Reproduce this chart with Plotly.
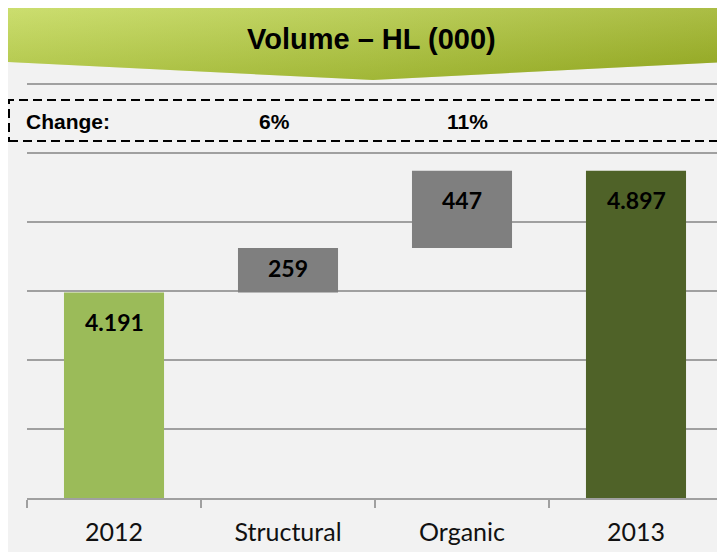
import plotly.graph_objects as go

# ---- data ----
categories = ["2012", "Structural", "Organic", "2013"]
start_value = 4191
changes = [259, 447]
end_value = 4897
change_labels = ["6%", "11%"]
title_text = "Volume – HL (000)"
y_min, y_max, y_step = 3000, 5400, 400

# page has an 8px body margin: figure is placed at (8, 8) in the window
OFF = 8
W, H = 725 - OFF, 552 - OFF

def px(x):
    return (x - OFF) / W

def py(y):
    return 1 - (y - OFF) / H

# bar geometry (bases + heights) from the data
bases = [0, start_value, start_value + changes[0], 0]
heights = [start_value, changes[0], changes[1], end_value]
tops = [b + h for b, h in zip(bases, heights)]
colors = ["#9BBB59", "#7F7F7F", "#7F7F7F", "#4F6228"]
labels = [f"{v:,}".replace(",", ".") for v in [start_value] + changes + [end_value]]

fig = go.Figure()

fig.add_trace(go.Bar(
    x=categories, y=heights, base=bases,
    xaxis="x", yaxis="y",
    marker=dict(color=colors, line=dict(width=0)),
    width=0.575, hoverinfo="skip", showlegend=False,
))

# banner (decoration) on a full-figure pixel axis pair (window pixel coords)
bx = [8, 726, 726, 373, 8, 8]
by = [4, 4, 62, 80, 62, 4]
fig.add_trace(go.Scatter(
    x=bx, y=by, xaxis="x2", yaxis="y2", mode="lines", fill="toself",
    line=dict(width=0, color="rgba(0,0,0,0)"),
    fillgradient=dict(type="horizontal",
                      colorscale=[[0, "#C3D85E"], [0.5, "#AFC546"], [1, "#97AC25"]]),
    hoverinfo="skip", showlegend=False,
))
fig.add_trace(go.Scatter(
    x=bx, y=by, xaxis="x2", yaxis="y2", mode="lines", fill="toself",
    line=dict(width=0, color="rgba(0,0,0,0)"),
    fillgradient=dict(type="vertical",
                      colorscale=[[0, "rgba(120,140,10,0.25)"], [1, "rgba(235,245,170,0.25)"]]),
    hoverinfo="skip", showlegend=False,
))

# small headroom so the top grid line (at y_max) is not dropped at the plot edge
pad_units = 6
px_per_unit = (498 - 84) / (y_max - y_min)

fig.update_layout(
    width=W, height=H,
    margin=dict(l=0, r=0, t=0, b=0, pad=0),
    paper_bgcolor="#F2F2F2",
    plot_bgcolor="rgba(0,0,0,0)",
    xaxis=dict(
        domain=[px(27), px(723)], anchor="y",
        type="category", categoryorder="array", categoryarray=categories,
        range=[-0.5, len(categories) - 0.5], autorange=False,
        showgrid=False,
        showline=True, linecolor="#A0A0A0", linewidth=1.5,
        ticks="outside", tickson="boundaries", ticklen=8,
        tickcolor="#A0A0A0", tickwidth=1.5, tickangle=0,
        tickfont=dict(family="Lato", size=25, color="#111111"),
        ticklabelstandoff=11,
        fixedrange=True,
    ),
    yaxis=dict(
        domain=[py(498), py(84 - pad_units * px_per_unit)], anchor="x",
        range=[y_min, y_max + pad_units], autorange=False, dtick=y_step, tick0=y_min,
        showgrid=True, gridcolor="#A0A0A0", gridwidth=1.5,
        showticklabels=False, zeroline=False, showline=False,
        fixedrange=True,
    ),
    xaxis2=dict(domain=[0, 1], anchor="y2", range=[OFF, OFF + W], autorange=False,
                visible=False, fixedrange=True),
    yaxis2=dict(domain=[0, 1], anchor="x2", range=[OFF + H, OFF], autorange=False,
                visible=False, fixedrange=True),
    shapes=[
        dict(type="rect", xref="paper", yref="paper",
             x0=px(9), x1=px(740), y0=py(141), y1=py(100),
             fillcolor="rgba(0,0,0,0)",
             line=dict(color="black", width=2, dash="9px,5px"), layer="above"),
    ],
)

annotations = [
    dict(text=f"<b>{title_text}</b>", xref="paper", yref="paper",
         x=px(371), y=py(39), xanchor="center", yanchor="middle", showarrow=False,
         font=dict(family="Liberation Sans, Arial", size=29, color="black")),
    dict(text="<b>Change:</b>", xref="paper", yref="paper",
         x=px(24), y=py(121), xanchor="left", yanchor="middle", showarrow=False,
         font=dict(family="Liberation Sans, Arial", size=21, color="black")),
]
pct_shift = [-14, 5]
for i, (lab, sh) in enumerate(zip(change_labels, pct_shift), start=1):
    annotations.append(dict(
        text=f"<b>{lab}</b>", x=i, xref="x", yref="paper", y=py(121),
        xanchor="center", yanchor="middle", showarrow=False, xshift=sh,
        font=dict(family="Liberation Sans, Arial", size=21, color="black")))

for i, (top, h, lab) in enumerate(zip(tops, heights, labels)):
    vis_h = (top - max(y_min, top - h)) * px_per_unit
    shift = -min(29, vis_h / 2 - 2)
    annotations.append(dict(
        text=f"<b>{lab}</b>", x=i, y=top, xref="x", yref="y",
        xanchor="center", yanchor="middle", yshift=shift, showarrow=False,
        font=dict(family="Lato", size=23, color="black")))

fig.update_layout(annotations=annotations)

fig.write_html("out.html")
